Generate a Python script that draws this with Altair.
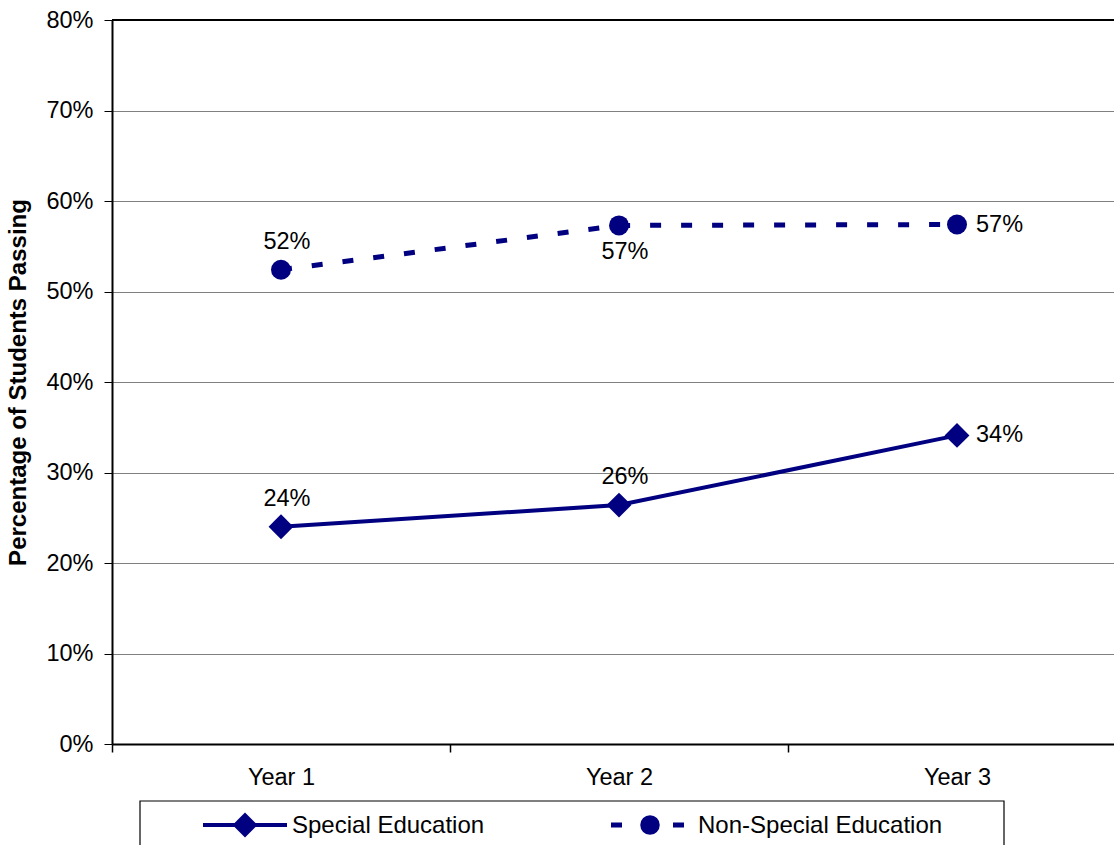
import altair as alt
import pandas as pd

# Share of students passing, by year and group
years = ["Year 1", "Year 2", "Year 3"]
special_ed = [0.240, 0.264, 0.341]
non_special_ed = [0.524, 0.573, 0.574]
series_names = ["Special Education", "Non-Special Education"]
y_ticks = [0.0, 0.1, 0.2, 0.3, 0.4, 0.5, 0.6, 0.7, 0.8]

NAVY = "#000080"
FONT = "Liberation Sans"
FS = 23

df = pd.DataFrame(
    {
        "year": years * 2,
        "value": special_ed + non_special_ed,
        "series": [series_names[0]] * 3 + [series_names[1]] * 3,
    }
)

x_enc = alt.X(
    "year:N",
    sort=years,
    bandPosition=0.5,
    scale=alt.Scale(type="band", paddingInner=0, paddingOuter=0, range=[0, 1014]),
    axis=alt.Axis(
        title=None,
        labelAngle=0,
        tickBand="extent",
        grid=False,
        domainColor="black",
        domainWidth=2,
        tickColor="black",
        tickWidth=1.5,
        tickSize=8,
        labelFont=FONT,
        labelFontSize=FS + 0.5,
        labelColor="black",
        labelPadding=13,
    ),
)
y_enc = alt.Y(
    "value:Q",
    scale=alt.Scale(domain=[0, 0.8], nice=False),
    axis=alt.Axis(
        values=y_ticks,
        format=".0%",
        grid=True,
        gridColor="#808080",
        gridWidth=1,
        domainColor="black",
        domainWidth=2,
        tickColor="black",
        tickWidth=1,
        tickSize=8,
        labelFont=FONT,
        labelFontSize=FS + 0.5,
        labelColor="black",
        labelPadding=11,
        title="Percentage of Students Passing",
        titleFont=FONT,
        titleFontSize=24,
        titleFontWeight="bold",
        titleColor="black",
        titleAngle=270,
        titleAlign="center",
        titleBaseline="middle",
        titleX=-94,
        titleY=362,
    ),
)

base = alt.Chart(df).encode(x=x_enc, y=y_enc)
is_special = f"datum.series == '{series_names[0]}'"
is_non = f"datum.series == '{series_names[1]}'"

special_line = base.transform_filter(is_special).mark_line(
    color=NAVY, strokeWidth=4
)
special_pts = base.transform_filter(is_special).mark_point(
    shape="diamond", size=620, filled=True, color=NAVY, opacity=1
)
non_line = base.transform_filter(is_non).mark_line(
    color=NAVY, strokeWidth=5, strokeDash=[11, 20]
)
non_pts = base.transform_filter(is_non).mark_point(
    shape="circle", size=400, filled=True, color=NAVY, opacity=1
)

label_text = alt.Text("value:Q", format=".0%")
above = (
    base.transform_filter(
        f"({is_special} && datum.year != 'Year 3') || ({is_non} && datum.year == 'Year 1')"
    )
    .mark_text(font=FONT, fontSize=FS + 0.5, color="black", dx=6, dy=-28, baseline="middle")
    .encode(text=label_text)
)
below = (
    base.transform_filter(f"{is_non} && datum.year == 'Year 2'")
    .mark_text(font=FONT, fontSize=FS + 0.5, color="black", dx=6, dy=27, baseline="middle")
    .encode(text=label_text)
)
right = (
    base.transform_filter("datum.year == 'Year 3'")
    .mark_text(font=FONT, fontSize=FS + 0.5, color="black", align="left", dx=19, baseline="middle")
    .encode(text=label_text)
)

# Plot-area top border
one = pd.DataFrame({"k": [0]})
top_border = alt.Chart(one).mark_rule(color="black", strokeWidth=2).encode(
    y=alt.datum(0.8)
)

# Legend box below the plot
legend_box = alt.Chart(one).mark_rect(
    fill="white", stroke="black", strokeWidth=1.2
).encode(x=alt.value(28), x2=alt.value(892), y=alt.value(781), y2=alt.value(860))
leg_y = 805
leg1_line = alt.Chart(one).mark_rule(color=NAVY, strokeWidth=4).encode(
    x=alt.value(91), x2=alt.value(175), y=alt.value(leg_y)
)
leg1_sym = alt.Chart(one).mark_point(
    shape="diamond", size=620, filled=True, color=NAVY, opacity=1
).encode(x=alt.value(133), y=alt.value(leg_y))
leg1_txt = alt.Chart(one).mark_text(
    text=series_names[0], font=FONT, fontSize=24, color="black", align="left", baseline="middle"
).encode(x=alt.value(180), y=alt.value(leg_y + 1))
leg2_line = alt.Chart(one).mark_rule(color=NAVY, strokeWidth=5, strokeDash=[11, 20]).encode(
    x=alt.value(499), x2=alt.value(573), y=alt.value(leg_y)
)
leg2_sym = alt.Chart(one).mark_point(
    shape="circle", size=380, filled=True, color=NAVY, opacity=1
).encode(x=alt.value(538), y=alt.value(leg_y))
leg2_txt = alt.Chart(one).mark_text(
    text=series_names[1], font=FONT, fontSize=24, color="black", align="left", baseline="middle"
).encode(x=alt.value(586), y=alt.value(leg_y + 1))

chart = (
    alt.layer(
        top_border,
        non_line,
        special_line,
        non_pts,
        special_pts,
        above,
        below,
        right,
        legend_box,
        leg1_line,
        leg1_sym,
        leg1_txt,
        leg2_line,
        leg2_sym,
        leg2_txt,
    )
    .properties(
        width=1002,
        height=724,
        padding={"left": 112, "top": 20, "right": 0, "bottom": 101},
        autosize=alt.AutoSizeParams(type="none"),
        background="white",
    )
    .configure_view(stroke=None)
)

chart.save("out.html", embed_options={"renderer": "svg", "actions": False})
